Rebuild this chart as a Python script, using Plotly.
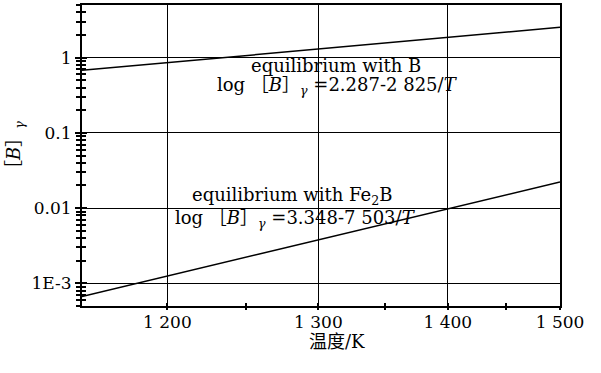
import plotly.graph_objects as go

# Temperatures (K) and read values of [B]_gamma
temps = [1150, 1200, 1300, 1400, 1500]
b_equil_B = [0.677, 0.857, 1.30, 1.86, 2.53]
b_equil_Fe2B = [6.7e-4, 1.25e-3, 3.77e-3, 9.75e-3, 0.0222]

x_ticks = [1200, 1300, 1400, 1500]
x_tick_labels = ["1 200", "1 300", "1 400", "1 500"]
x_minor = [1250, 1350, 1450]
y_ticks = [1e-3, 1e-2, 0.1, 1]
y_tick_labels = ["1E-3", "0.01", "0.1", "1"]
y_minor = [m * 10.0 ** e for e in range(-4, 1) for m in range(2, 10)]

inv = lambda arr: [1.0 / t for t in arr]

FONT = "DejaVu Serif, Liberation Serif, Noto Sans CJK SC"

fig = go.Figure()
for ys in (b_equil_B, b_equil_Fe2B):
    fig.add_trace(go.Scatter(x=inv(temps), y=ys, mode="lines",
                             line=dict(color="black", width=1.5),
                             showlegend=False, hoverinfo="skip"))

xr = [1.0 / 1150, 1.0 / 1500]
yr = [-3.301, 0.699]

fig.update_layout(
    width=601, height=373,
    margin=dict(l=82, r=41, t=5, b=67),
    paper_bgcolor="white", plot_bgcolor="white",
    font=dict(family=FONT, size=17, color="black"),
    xaxis=dict(range=xr, tickvals=inv(x_ticks), ticktext=x_tick_labels,
               showgrid=True, gridcolor="black", gridwidth=1,
               showline=True, linecolor="black", linewidth=2, mirror=True,
               ticks="inside", ticklen=3, tickcolor="black", tickwidth=1.5,
               minor=dict(tickvals=inv(x_minor), ticks="inside", ticklen=3,
                          tickcolor="black", tickwidth=1.5, showgrid=False),
               zeroline=False, automargin=False,
               tickfont=dict(size=17, family=FONT)),
    xaxis2=dict(range=xr, overlaying="x", side="bottom", anchor="y",
                tickvals=inv(x_ticks), showticklabels=False, showgrid=False,
                ticks="outside", ticklen=3, tickcolor="black", tickwidth=1.5,
                minor=dict(tickvals=inv(x_minor), ticks="outside", ticklen=3,
                           tickcolor="black", tickwidth=1.5),
                zeroline=False, showline=False),
    yaxis=dict(type="log", range=yr, tickvals=y_ticks, ticktext=y_tick_labels,
               showgrid=True, gridcolor="black", gridwidth=1,
               showline=True, linecolor="black", linewidth=2, mirror=True,
               ticks="outside", ticklen=5, tickcolor="black", tickwidth=1.5,
               minor=dict(tickvals=y_minor, ticks="outside", ticklen=4,
                          tickcolor="black", tickwidth=1.5, showgrid=False),
               zeroline=False, automargin=False,
               tickfont=dict(size=17, family=FONT)),
    yaxis2=dict(type="log", range=yr, overlaying="y", side="left", anchor="x",
                tickvals=y_ticks, showticklabels=False, showgrid=False,
                ticks="inside", ticklen=5, tickcolor="black", tickwidth=1.5,
                minor=dict(tickvals=y_minor, ticks="inside", ticklen=4,
                           tickcolor="black", tickwidth=1.5),
                zeroline=False, showline=False),
)
# dummy trace to activate second axes
fig.add_trace(go.Scatter(x=[None], y=[None], xaxis="x2", yaxis="y2",
                         showlegend=False, hoverinfo="skip"))

ann = [
    ("equilibrium with B", 336, 65),
    ("log ［<i>B</i>］<sub><i>γ</i></sub> =2.287-2 825/<i>T</i>", 337, 86),
    ("equilibrium with Fe<sub>2</sub>B", 292, 196),
    ("log ［<i>B</i>］<sub><i>γ</i></sub> =3.348-7 503/<i>T</i>", 295, 219),
]
for txt, px, py in ann:
    fig.add_annotation(text=txt, xref="paper", yref="paper",
                       x=(px - 82) / (560 - 82), y=1 - (py - 5) / (306 - 5),
                       showarrow=False, xanchor="center", yanchor="middle",
                       font=dict(size=18, family=FONT, color="black"))

fig.add_annotation(text="温度/K", xref="paper", yref="paper",
                   x=(337 - 82) / (560 - 82), y=1 - (342 - 5) / (306 - 5),
                   showarrow=False, xanchor="center", yanchor="middle",
                   font=dict(size=18, family=FONT, color="black"))
fig.add_annotation(text="［<i>B</i>］<sub><i>γ</i></sub>", xref="paper", yref="paper",
                   x=(15 - 82) / (560 - 82), y=1 - (150 - 5) / (306 - 5),
                   showarrow=False, xanchor="center", yanchor="middle",
                   textangle=-90,
                   font=dict(size=18, family=FONT, color="black"))

fig.write_html("out.html", config={"displayModeBar": False},
               post_script="document.body.style.margin='0';document.body.style.padding='0';")
